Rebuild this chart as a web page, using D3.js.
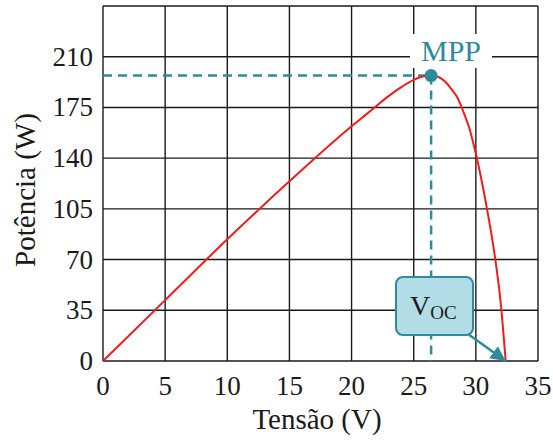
<!DOCTYPE html>
<html>
<head>
  <meta charset="UTF-8">
  <style>
    body { margin: 0; background: #fff; }
  </style>
</head>
<body>
<svg></svg>
<script src="https://d3js.org/d3.v7.min.js"></script>
<script>

let width = 553, height = 441;

// data
let tensao =   [0, 5, 10, 15, 20, 21, 22, 23, 24, 25, 25.8, 26.4, 27, 27.5, 28, 28.5, 29, 29.5, 30, 30.5, 31, 31.5, 32, 32.4];
let potencia = [0, 42, 84, 124, 162, 169, 176, 183, 189, 194, 196.5, 197, 196, 193, 188, 182, 172, 160, 143, 123, 100, 74, 40, 0];
let xTicks = [0, 5, 10, 15, 20, 25, 30, 35];
let yTicks = [0, 35, 70, 105, 140, 175, 210];
let mpp = {v: 26.4, p: 197};
let voc = 32.4;

let teal = "#2f8a9c";

let svg = d3.select("svg")
    .attr("width", width)
    .attr("height", height);

let x = d3.scaleLinear().domain([0, 35]).range([103, 538]);
let y = d3.scaleLinear().domain([0, 245]).range([361, 6]);

// grid
let grid = svg.append("g");
grid.selectAll(".gx")
    .data(xTicks)
    .enter()
        .append("line")
        .attr("x1", d => x(d)).attr("x2", d => x(d))
        .attr("y1", y(0)).attr("y2", y(245))
        .attr("stroke", "#1a1a1a").attr("stroke-width", 1.4);
grid.selectAll(".gy")
    .data(yTicks.concat([245]))
    .enter()
        .append("line")
        .attr("x1", x(0)).attr("x2", x(35))
        .attr("y1", d => y(d)).attr("y2", d => y(d))
        .attr("stroke", "#1a1a1a").attr("stroke-width", 1.4);

// tick labels
svg.append("g").selectAll("text")
    .data(xTicks)
    .enter()
        .append("text")
        .attr("x", d => x(d))
        .attr("y", 395)
        .attr("text-anchor", "middle")
        .attr("font-size", 27)
        .attr("fill", "#1a1a1a")
        .text(d => d);

svg.append("g").selectAll("text")
    .data(yTicks)
    .enter()
        .append("text")
        .attr("x", 93)
        .attr("y", d => y(d) + 9)
        .attr("text-anchor", "end")
        .attr("font-size", 27)
        .attr("fill", "#1a1a1a")
        .text(d => d);

svg.append("text")
    .attr("x", 317).attr("y", 429)
    .attr("text-anchor", "middle")
    .attr("font-size", 29)
    .attr("fill", "#1a1a1a")
    .text("Tensão (V)");

svg.append("text")
    .attr("transform", "translate(35,190) rotate(-90)")
    .attr("text-anchor", "middle")
    .attr("font-size", 29)
    .attr("fill", "#1a1a1a")
    .text("Potência (W)");

// dashed MPP guides
svg.append("line")
    .attr("x1", x(0)).attr("x2", x(mpp.v))
    .attr("y1", y(mpp.p)).attr("y2", y(mpp.p))
    .attr("stroke", teal).attr("stroke-width", 2.5)
    .attr("stroke-dasharray", "9,6");
svg.append("line")
    .attr("x1", x(mpp.v)).attr("x2", x(mpp.v))
    .attr("y1", y(mpp.p)).attr("y2", y(0))
    .attr("stroke", teal).attr("stroke-width", 2.5)
    .attr("stroke-dasharray", "9,6");

// curve
let line = d3.line()
    .x((d, i) => x(tensao[i]))
    .y(d => y(d))
    .curve(d3.curveMonotoneX);

svg.append("path")
    .datum(potencia)
    .attr("d", line)
    .attr("fill", "none")
    .attr("stroke", "#f01c1c")
    .attr("stroke-width", 2);

// MPP label
svg.append("rect")
    .attr("x", 410).attr("y", 34)
    .attr("width", 82).attr("height", 34)
    .attr("fill", "#fff");
svg.append("text")
    .attr("x", 451).attr("y", 61)
    .attr("text-anchor", "middle")
    .attr("font-size", 30)
    .attr("fill", teal)
    .text("MPP");

svg.append("circle")
    .attr("cx", x(mpp.v)).attr("cy", y(mpp.p))
    .attr("r", 6.5)
    .attr("fill", teal);

// Voc callout
svg.append("defs").append("marker")
    .attr("id", "arr")
    .attr("viewBox", "0 0 10 10")
    .attr("refX", 10).attr("refY", 5)
    .attr("markerWidth", 6).attr("markerHeight", 6)
    .attr("orient", "auto")
    .attr("markerUnits", "strokeWidth")
    .append("path")
        .attr("d", "M0,0 L10,5 L0,10 Z")
        .attr("fill", teal);

svg.append("line")
    .attr("x1", 468).attr("y1", 334)
    .attr("x2", x(voc)).attr("y2", y(0))
    .attr("stroke", teal).attr("stroke-width", 2.5)
    .attr("marker-end", "url(#arr)");

svg.append("rect")
    .attr("x", 396).attr("y", 277)
    .attr("width", 77).attr("height", 58)
    .attr("rx", 7)
    .attr("fill", "#b2dde7")
    .attr("stroke", teal)
    .attr("stroke-width", 2);

let vt = svg.append("text")
    .attr("x", 410).attr("y", 315)
    .attr("font-size", 28)
    .attr("fill", "#1a1a1a");
vt.append("tspan").text("V");
vt.append("tspan").attr("font-size", 19).attr("dy", 4).text("OC");

// serif everywhere
svg.selectAll("text, tspan").style("font-family", "Liberation Serif");

</script>
</body>
</html>
